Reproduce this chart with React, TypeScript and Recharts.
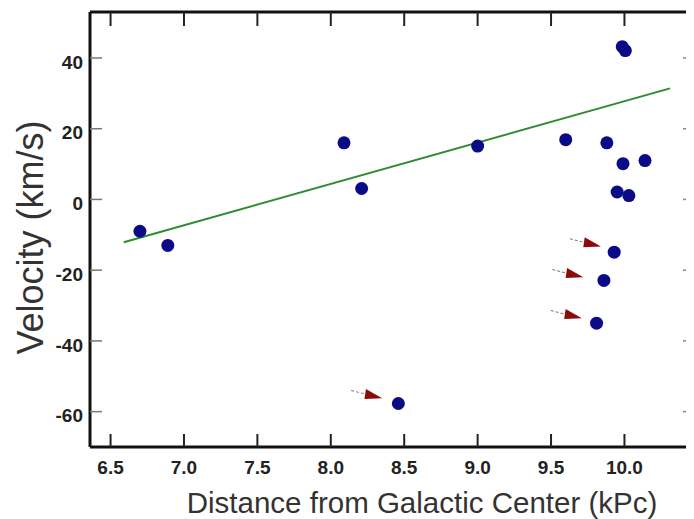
import { ScatterChart, Scatter, XAxis, YAxis, Label } from 'recharts';

const xTicks = [6.5, 7.0, 7.5, 8.0, 8.5, 9.0, 9.5, 10.0];
const yTicks = [-60, -40, -20, 0, 20, 40];

// star distance (kPc) and radial velocity (km/s)
const distance = [6.7, 6.89, 8.09, 8.21, 9.0, 9.6, 9.88, 9.985, 10.006, 9.99, 10.14, 9.95, 10.03, 9.93, 9.86, 9.81, 8.46];
const velocity = [-9.0, -13.0, 16.0, 3.1, 15.1, 16.9, 16.0, 43.2, 42.1, 10.1, 11.0, 2.1, 1.1, -14.9, -22.9, -35.0, -57.7];

// fitted line end points
const fitX = [6.59, 10.31];
const fitY = [-12.1, 31.4];

// arrow tips pointing at the odd stars
const arrowX = [9.84, 9.72, 9.71, 8.35];
const arrowY = [-13.3, -22.0, -33.6, -56.2];

const xDomain = [6.36, 10.46];
const yDomain = [-70, 53];

const stars = distance.map((x, i) => ({ x, y: velocity[i] }));
const fit = fitX.map((x, i) => ({ x, y: fitY[i] }));
const arrows = arrowX.map((x, i) => ({ x, y: arrowY[i] }));

const font = '"Liberation Sans", Arial, sans-serif';

// ticks point into the plot, so the lines are drawn by the tick components
const XTick = (p: any) => {
  const x = Number(p.x);
  const y = Number(p.y);
  return (
    <g>
      <line x1={x} x2={x} y1={y - 14} y2={y - 27} stroke="#222" strokeWidth={2} />
      <text x={x} y={y} dy="0.71em" textAnchor="middle" fontFamily={font} fontWeight="bold" fontSize={19} fill="#222">
        {Number(p.payload.value).toFixed(1)}
      </text>
    </g>
  );
};

const YTick = (p: any) => {
  const x = Number(p.x);
  const y = Number(p.y);
  return (
    <g>
      <line x1={x + 7} x2={x + 19} y1={y} y2={y} stroke="#777" strokeWidth={1.5} />
      <text x={x} y={y + 4} dy="0.355em" textAnchor="end" fontFamily={font} fontWeight="bold" fontSize={19} fill="#222">
        {p.payload.value}
      </text>
    </g>
  );
};

const TopTick = (p: any) => {
  const x = Number(p.x);
  const y = Number(p.y);
  return <line x1={x} x2={x} y1={y} y2={y + 14} stroke="#222" strokeWidth={2} />;
};

const RightTick = (p: any) => {
  const x = Number(p.x);
  const y = Number(p.y);
  return <line x1={x} x2={x - 9} y1={y} y2={y} stroke="#888" strokeWidth={1.5} />;
};

const Dot = (p: any) => <circle cx={p.cx} cy={p.cy} r={6.5} fill="#0b0b88" />;

const Arrow = (p: any) => (
  <g transform={`translate(${p.cx},${p.cy}) rotate(14)`}>
    <line x1={-32} y1={0} x2={-17} y2={0} stroke="#a07070" strokeWidth={1} strokeDasharray="3 2" />
    <polygon points="0,0 -18,-5 -17,5" fill="#8b0a0a" />
  </g>
);

const XLabel = (p: any) => {
  const vb = p.viewBox;
  return (
    <text x={vb.x + vb.width / 2 + 31} y={vb.y + 66} textAnchor="middle" fontFamily={font} fontSize={29.5} fill="#333">
      Distance from Galactic Center (kPc)
    </text>
  );
};

const YLabel = (p: any) => {
  const vb = p.viewBox;
  const cx = vb.x + 35;
  const cy = vb.y + vb.height / 2 + 8;
  return (
    <text x={cx} y={cy} transform={`rotate(-90, ${cx}, ${cy})`} textAnchor="middle" fontFamily={font} fontSize={36} fill="#333">
      Velocity (km/s)
    </text>
  );
};

export default function App() {
  return (
    <ScatterChart width={686} height={511} margin={{ top: 3, right: 1, bottom: 0, left: 0 }}>
      <XAxis
        dataKey="x"
        type="number"
        domain={xDomain}
        ticks={xTicks}
        interval={0}
        height={72}
        tickSize={0}
        tickMargin={14}
        tickLine={false}
        tick={<XTick />}
        axisLine={{ stroke: '#111', strokeWidth: 3 }}
      >
        <Label content={<XLabel />} />
      </XAxis>
      <XAxis
        xAxisId="top"
        dataKey="x"
        orientation="top"
        type="number"
        domain={xDomain}
        ticks={xTicks}
        interval={0}
        height={1}
        tickSize={0}
        tickMargin={0}
        tickLine={false}
        tick={<TopTick />}
        axisLine={{ stroke: '#111', strokeWidth: 3 }}
      />
      <YAxis
        dataKey="y"
        type="number"
        domain={yDomain}
        ticks={yTicks}
        interval={0}
        width={82}
        tickSize={0}
        tickMargin={7}
        tickLine={false}
        tick={<YTick />}
        axisLine={{ stroke: '#111', strokeWidth: 3 }}
      >
        <Label content={<YLabel />} />
      </YAxis>
      <YAxis
        yAxisId="right"
        dataKey="y"
        orientation="right"
        type="number"
        domain={yDomain}
        ticks={yTicks}
        interval={0}
        width={1}
        tickSize={0}
        tickMargin={0}
        tickLine={false}
        tick={<RightTick />}
        axisLine={{ stroke: '#999', strokeWidth: 1.5 }}
      />
      <Scatter
        data={fit}
        xAxisId="top"
        yAxisId="right"
        line={{ stroke: '#2e8b30', strokeWidth: 2 }}
        shape={() => <g />}
        isAnimationActive={false}
      />
      <Scatter data={stars} shape={<Dot />} isAnimationActive={false} />
      <Scatter data={arrows} shape={<Arrow />} isAnimationActive={false} />
    </ScatterChart>
  );
}
